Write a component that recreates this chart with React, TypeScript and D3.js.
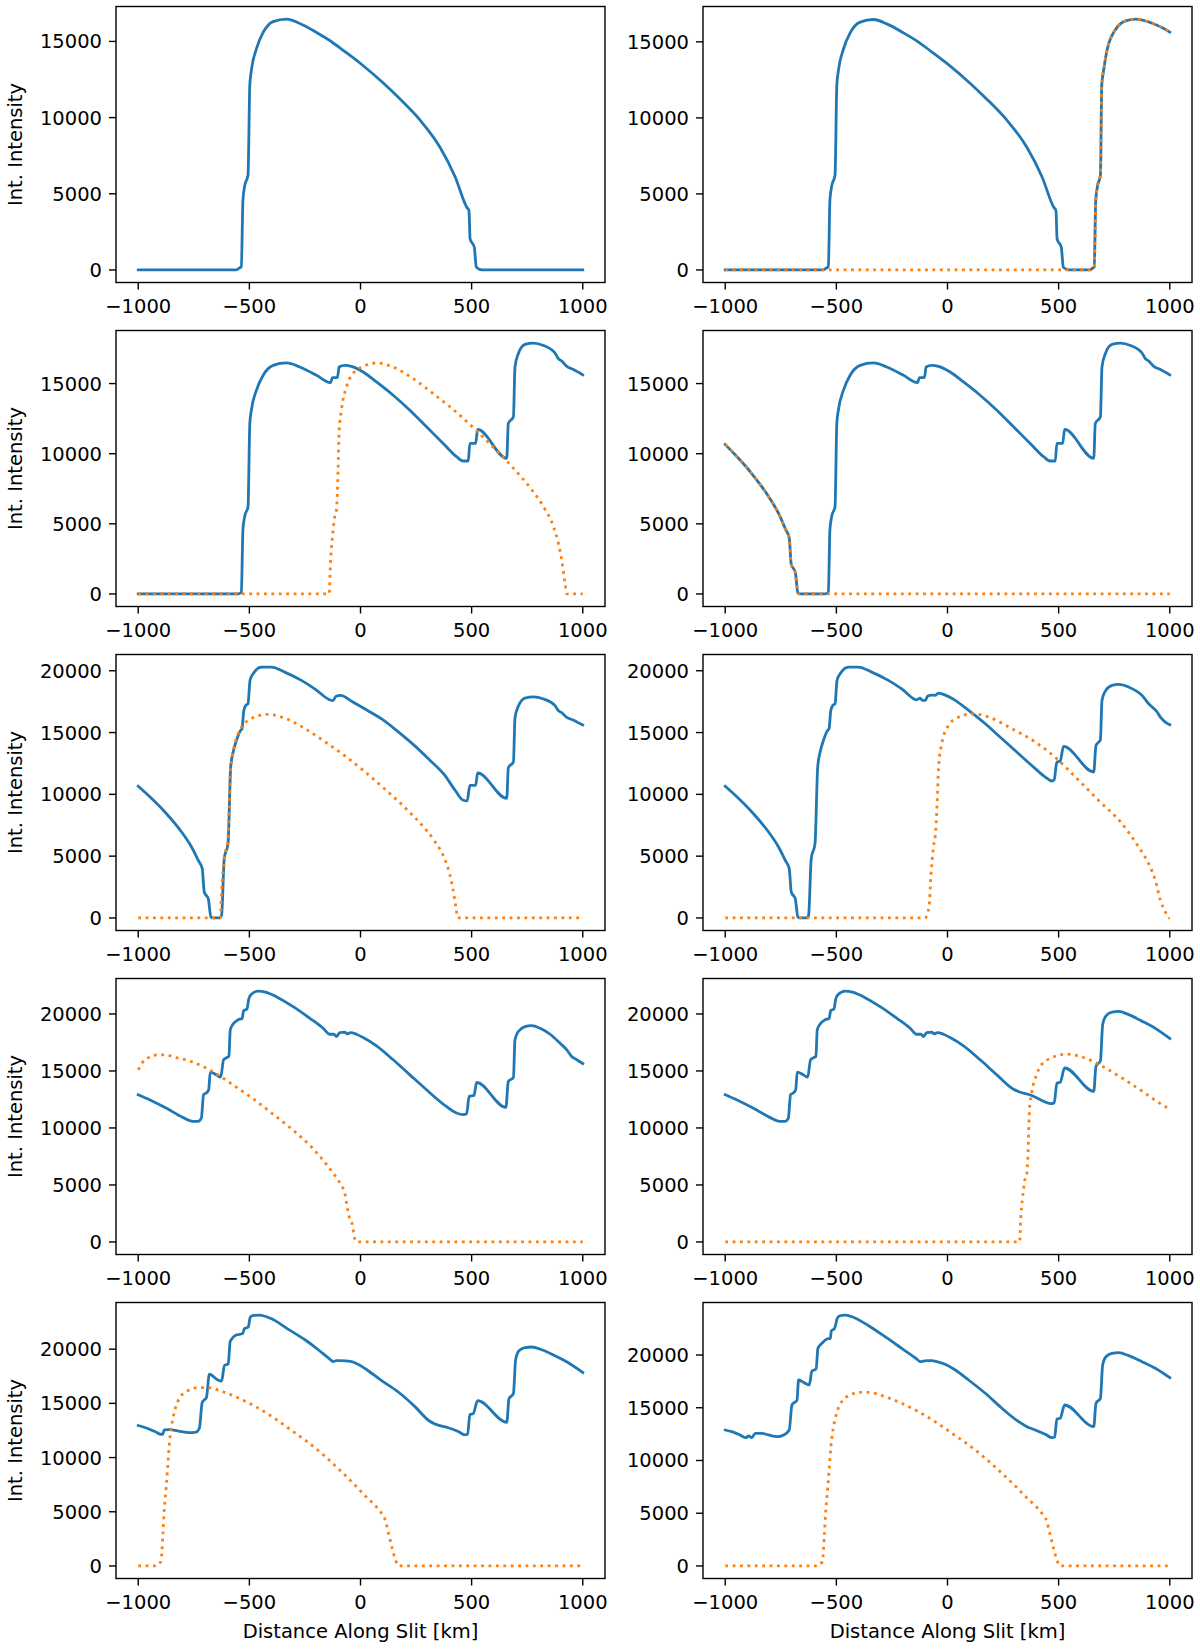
import React from 'react';
import * as d3 from 'd3';

type Pt = [number, number];

const xTickValues = [-1000, -500, 0, 500, 1000];
const xTickLabels = ['\u22121000', '\u2212500', '0', '500', '1000'];
const yTickValues = [0, 5000, 10000, 15000, 20000];
const yAxisTitle = 'Int. Intensity';
const xAxisTitle = 'Distance Along Slit [km]';

const blue1: Pt[] = [[-1000,0],[-560,0],[-545,130],[-536,200],[-529,4570],[-521,5520],[-506,6230],[-498,12150],[-491,13100],[-468,14530],[-438,15590],[-393,16300],[-333,16470],[-273,16180],[-198,15590],[-135,15030],[-70,14330],[0,13550],[100,12300],[170,11330],[270,9800],[357,8070],[426,6100],[478,4120],[488,3900],[493,2040],[512,1490],[521,175],[547,0],[1000,0]];

const blue2: Pt[] = [[-1000,0],[-560,0],[-545,130],[-536,200],[-529,4570],[-521,5520],[-506,6230],[-498,12150],[-491,13100],[-468,14530],[-438,15590],[-393,16300],[-333,16470],[-273,16180],[-198,15590],[-135,15030],[-70,14330],[0,13550],[100,12300],[170,11330],[270,9800],[357,8070],[426,6100],[478,4120],[488,3900],[493,2040],[512,1490],[521,175],[547,0],[640,0],[654,130],[660,200],[667,4570],[675,5520],[688,6230],[694,12150],[702,13100],[719,14530],[753,15750],[805,16400],[848,16500],[909,16290],[960,15970],[1000,15640]];
const orange2: Pt[] = [[-1000,0],[640,0],[654,130],[660,200],[667,4570],[675,5520],[688,6230],[694,12150],[702,13100],[719,14530],[753,15750],[805,16400],[848,16500],[909,16290],[960,15970],[1000,15640]];

const blue3: Pt[] = [[-1000,0],[-551,0],[-536,130],[-529,4570],[-521,5520],[-506,6230],[-498,12150],[-491,13100],[-468,14530],[-438,15590],[-393,16300],[-333,16470],[-273,16180],[-198,15590],[-135,15070],[-126,15430],[-104,15430],[-96,16180],[-71,16300],[-41,16230],[12,15830],[72,15120],[147,14170],[222,13100],[297,11920],[372,10730],[432,9790],[462,9480],[485,9480],[492,10730],[518,10730],[527,11730],[658,9670],[665,12150],[688,12630],[695,16180],[710,17130],[740,17790],[778,17890],[823,17720],[875,17180],[890,16780],[905,16610],[928,16230],[958,16000],[1000,15620]];
const orange3: Pt[] = [[-1000,0],[-141,0],[-135,2200],[-123,4570],[-116,5520],[-108,6000],[-101,8820],[-96,11680],[-86,13100],[-63,14760],[-18,15950],[72,16470],[147,16180],[237,15350],[327,14290],[417,13150],[508,11850],[598,10450],[658,9480],[688,8960],[763,7580],[823,6230],[868,4810],[890,3630],[905,2440],[920,780],[928,0],[1000,0]];

const blue4: Pt[] = [[-1000,10650],[-955,9920],[-880,8570],[-805,6950],[-760,5740],[-730,4660],[-712,3990],[-703,2100],[-685,1560],[-673,80],[-665,0],[-551,0],[-536,130],[-529,4570],[-521,5520],[-506,6230],[-498,12150],[-491,13100],[-468,14530],[-438,15590],[-393,16300],[-333,16470],[-273,16180],[-198,15590],[-135,15070],[-126,15430],[-104,15430],[-96,16180],[-71,16300],[-41,16230],[12,15830],[72,15120],[147,14170],[222,13100],[297,11920],[372,10730],[432,9790],[462,9480],[485,9480],[492,10730],[518,10730],[527,11730],[658,9670],[665,12150],[688,12630],[695,16180],[710,17130],[740,17790],[778,17890],[823,17720],[875,17180],[890,16780],[905,16610],[928,16230],[958,16000],[1000,15620]];
const orange4: Pt[] = [[-1000,10650],[-955,9920],[-880,8570],[-805,6950],[-760,5740],[-730,4660],[-712,3990],[-703,2100],[-685,1560],[-673,80],[-665,0],[1000,0]];

const blue5: Pt[] = [[-1000,10650],[-955,9920],[-880,8570],[-805,6950],[-760,5740],[-730,4660],[-712,3990],[-703,2100],[-685,1560],[-673,80],[-665,0],[-634,0],[-625,200],[-613,4800],[-596,6010],[-584,12210],[-573,13420],[-558,14370],[-539,15180],[-533,15310],[-525,16790],[-516,17200],[-506,17330],[-497,19220],[-483,19760],[-446,20300],[-401,20300],[-341,19890],[-266,19220],[-206,18540],[-138,17650],[-124,17590],[-110,17930],[-90,18010],[-38,17520],[30,16800],[100,16040],[170,15050],[238,14020],[310,12800],[376,11610],[428,10270],[460,9550],[480,9470],[492,10730],[518,10730],[527,11730],[658,9670],[665,12150],[688,12630],[695,16180],[710,17130],[740,17790],[778,17890],[823,17720],[875,17180],[890,16780],[905,16610],[928,16230],[958,16000],[1000,15620]];
const orange5: Pt[] = [[-1000,0],[-631,0],[-625,2200],[-613,4570],[-606,5520],[-598,6000],[-591,8820],[-586,11680],[-576,13100],[-553,14760],[-508,15950],[-418,16470],[-343,16180],[-253,15350],[-163,14290],[-73,13150],[18,11850],[108,10450],[168,9480],[198,8960],[273,7580],[333,6230],[378,4810],[400,3630],[415,2440],[430,780],[438,0],[1000,0]];

const blue6: Pt[] = [[-1000,10650],[-955,9920],[-880,8570],[-805,6950],[-760,5740],[-730,4660],[-712,3990],[-703,2100],[-685,1560],[-673,80],[-665,0],[-634,0],[-625,200],[-613,4800],[-596,6010],[-584,12210],[-573,13420],[-558,14370],[-539,15180],[-533,15310],[-525,16790],[-516,17200],[-506,17330],[-497,19220],[-483,19760],[-446,20300],[-401,20300],[-341,19890],[-266,19220],[-206,18540],[-138,17650],[-123,17790],[-113,17600],[-100,17600],[-89,17950],[-71,18030],[-56,18010],[-41,18190],[-18,18090],[35,17600],[95,16790],[170,15710],[245,14500],[320,13290],[395,12080],[440,11400],[470,11080],[480,11190],[492,12610],[507,12700],[522,13880],[658,11810],[668,13960],[688,14420],[695,17600],[710,18350],[740,18810],[770,18890],[815,18680],[875,18010],[905,17330],[943,16660],[958,16250],[980,15850],[1000,15640]];
const orange6: Pt[] = [[-1000,0],[-101,0],[-83,890],[-74,3590],[-63,5740],[-53,7090],[-45,10050],[-41,11940],[-26,14100],[5,15580],[50,16250],[117,16520],[185,16250],[290,15310],[395,14230],[500,12750],[590,11130],[680,9510],[785,7630],[860,5740],[905,4390],[935,3050],[958,1430],[980,490],[995,0],[1000,0]];

const blue7: Pt[] = [[-1000,12920],[-949,12480],[-875,11750],[-800,10930],[-755,10580],[-731,10580],[-716,10870],[-706,12920],[-694,13060],[-683,13350],[-676,14900],[-649,14660],[-629,14460],[-616,15980],[-601,16180],[-592,16270],[-586,18600],[-574,19100],[-551,19480],[-532,19620],[-526,20290],[-511,20440],[-502,21370],[-491,21720],[-461,22010],[-424,21900],[-379,21520],[-303,20640],[-228,19620],[-168,18750],[-138,18220],[-120,18220],[-108,18020],[-93,18370],[-71,18400],[-60,18250],[-45,18370],[-18,18220],[12,17930],[72,17200],[147,15980],[222,14660],[297,13350],[372,12100],[432,11310],[462,11170],[477,11220],[489,12770],[511,12860],[522,14000],[654,11810],[665,14080],[688,14430],[695,17730],[710,18460],[740,18890],[770,18980],[808,18750],[853,18220],[898,17430],[928,16850],[950,16270],[973,15980],[1000,15650]];
const orange7: Pt[] = [[-1000,15100],[-980,15770],[-950,16210],[-913,16410],[-875,16410],[-838,16210],[-762,15830],[-694,15250],[-620,14400],[-574,13780],[-484,12570],[-394,11220],[-306,9850],[-224,8400],[-150,6730],[-108,5630],[-86,4960],[-71,4310],[-60,3100],[-52,2300],[-38,1600],[-23,90],[-15,0],[1000,0]];

const blue8: Pt[] = [[-1000,12920],[-949,12480],[-875,11750],[-800,10930],[-755,10580],[-731,10580],[-716,10870],[-706,12920],[-694,13060],[-683,13350],[-676,14900],[-649,14660],[-629,14460],[-616,15980],[-601,16180],[-592,16270],[-586,18600],[-574,19100],[-551,19480],[-532,19620],[-526,20290],[-511,20440],[-502,21370],[-491,21720],[-461,22010],[-424,21900],[-379,21520],[-303,20640],[-228,19620],[-168,18750],[-138,18220],[-120,18220],[-108,18020],[-93,18370],[-71,18400],[-60,18250],[-45,18370],[-18,18220],[12,17930],[72,17200],[147,15980],[222,14660],[297,13400],[324,13160],[376,12870],[420,12450],[462,12130],[480,12200],[492,13930],[507,14000],[527,15260],[658,13210],[668,15420],[688,15890],[698,19050],[713,19840],[740,20160],[770,20220],[815,19940],[875,19370],[935,18740],[1000,17850]];
const orange8: Pt[] = [[-1000,0],[324,0],[330,2200],[342,4570],[349,5520],[357,6000],[364,8820],[369,11680],[379,13100],[402,14760],[447,15950],[537,16470],[612,16180],[702,15350],[792,14290],[882,13150],[940,12350],[1000,11650]];

const blue9: Pt[] = [[-1000,12960],[-960,12700],[-920,12350],[-900,12150],[-890,12150],[-883,12550],[-860,12580],[-820,12450],[-770,12300],[-740,12350],[-725,12700],[-712,15100],[-693,15550],[-680,17700],[-645,17200],[-625,17050],[-612,18500],[-595,18650],[-586,20750],[-560,21300],[-530,21450],[-522,21900],[-505,22050],[-496,22950],[-486,23100],[-455,23150],[-400,22800],[-330,21900],[-245,20800],[-190,19950],[-141,19130],[-123,18850],[-108,18950],[-90,18950],[-60,18900],[-40,18850],[-11,18600],[31,18060],[95,17100],[170,16050],[245,14700],[307,13420],[335,13100],[357,12950],[395,12750],[440,12400],[470,12100],[482,12150],[492,13950],[507,14050],[527,15250],[658,13250],[668,15430],[688,15900],[698,19050],[713,19850],[740,20150],[770,20200],[815,19950],[875,19400],[935,18750],[1000,17850]];
const orange9: Pt[] = [[-1000,0],[-924,0],[-898,410],[-889,2940],[-883,5150],[-874,7360],[-867,9260],[-859,11470],[-849,13050],[-834,14470],[-811,15580],[-773,16210],[-728,16460],[-690,16460],[-616,16050],[-541,15420],[-466,14630],[-391,13680],[-315,12580],[-240,11470],[-165,10210],[-90,8780],[-30,7580],[15,6600],[60,5700],[90,5000],[112,4200],[127,2940],[142,1670],[157,570],[172,0],[1000,0]];

const blue10: Pt[] = [[-1000,12890],[-970,12730],[-940,12480],[-907,12160],[-895,12320],[-880,12160],[-865,12580],[-835,12580],[-805,12420],[-767,12260],[-737,12420],[-712,12890],[-700,15260],[-677,15730],[-670,17630],[-640,17310],[-622,17160],[-610,18480],[-591,18670],[-583,20630],[-565,21110],[-542,21520],[-527,21580],[-523,22270],[-508,22530],[-497,23410],[-487,23700],[-460,23790],[-430,23630],[-355,22780],[-281,21740],[-206,20630],[-138,19620],[-123,19370],[-108,19430],[-93,19460],[-70,19460],[-48,19370],[-11,19120],[35,18580],[95,17630],[170,16370],[245,14950],[320,13680],[357,13210],[395,12890],[440,12480],[470,12160],[482,12200],[492,13930],[507,14000],[527,15260],[658,13210],[668,15420],[688,15890],[698,19050],[713,19840],[740,20160],[770,20220],[815,19940],[875,19370],[935,18740],[1000,17850]];
const orange10: Pt[] = [[-1000,0],[-589,0],[-563,410],[-554,2940],[-548,5150],[-539,7360],[-532,9260],[-524,11470],[-514,13050],[-499,14470],[-476,15580],[-438,16210],[-393,16460],[-355,16460],[-281,16050],[-206,15420],[-131,14630],[-56,13680],[20,12580],[95,11470],[170,10210],[245,8780],[305,7580],[350,6600],[395,5700],[425,5000],[447,4200],[462,2940],[477,1670],[492,570],[507,0],[1000,0]];

const panelBlue: Pt[][] = [blue1, blue2, blue3, blue4, blue5, blue6, blue7, blue8, blue9, blue10];
const panelOrange: (Pt[] | null)[] = [null, orange2, orange3, orange4, orange5, orange6, orange7, orange8, orange9, orange10];

const W = 1200;
const H = 1650;
const COL_X = [116, 703];
const PW = 489;
const ROW_TOP = 6.5;
const ROW_PITCH = 324;
const PH = 276;
const FONT = 'DejaVu Sans, sans-serif';
const FS = 19.5;
const BLUE = '#1f77b4';
const ORANGE = '#ff7f0e';

function Panel({ idx }: { idx: number }) {
  const col = idx % 2;
  const row = Math.floor(idx / 2);
  const x0 = COL_X[col];
  const y0 = ROW_TOP + row * ROW_PITCH;
  const blue = panelBlue[idx];
  const orange = panelOrange[idx];
  const all = orange ? blue.concat(orange) : blue;
  const [xmin, xmax] = d3.extent(all, (d) => d[0]) as [number, number];
  const [ymin, ymax] = d3.extent(all, (d) => d[1]) as [number, number];
  const xpad = (xmax - xmin) * 0.05;
  const ypad = (ymax - ymin) * 0.05;
  const x = d3.scaleLinear().domain([xmin - xpad, xmax + xpad]).range([x0, x0 + PW]);
  const y = d3.scaleLinear().domain([ymin - ypad, ymax + ypad]).range([y0 + PH, y0]);
  const line = d3
    .line<Pt>()
    .x((d) => x(d[0]))
    .y((d) => y(d[1]))
    .curve(d3.curveMonotoneX);
  const yt = yTickValues.filter((v) => v >= y.domain()[0] && v <= y.domain()[1]);
  const clipId = `clip${idx}`;
  return (
    <g>
      <defs>
        <clipPath id={clipId}>
          <rect x={x0} y={y0} width={PW} height={PH} />
        </clipPath>
      </defs>
      <g clipPath={`url(#${clipId})`}>
        <path d={line(blue) || ''} fill="none" stroke={BLUE} strokeWidth={2.8} strokeLinejoin="round" strokeLinecap="square" />
        {orange && (
          <path d={line(orange) || ''} fill="none" stroke={ORANGE} strokeWidth={2.8} strokeDasharray="2.8 4.6" strokeLinejoin="round" />
        )}
      </g>
      <rect x={x0} y={y0} width={PW} height={PH} fill="none" stroke="#000" strokeWidth={1.4} />
      {xTickValues.map((v, i) => (
        <g key={`xt${i}`}>
          <line x1={x(v)} x2={x(v)} y1={y0 + PH} y2={y0 + PH + 7} stroke="#000" strokeWidth={1.4} />
          <text x={x(v)} y={y0 + PH + 30} fontFamily={FONT} fontSize={FS} textAnchor="middle" fill="#000">
            {xTickLabels[i]}
          </text>
        </g>
      ))}
      {yt.map((v) => (
        <g key={`yt${v}`}>
          <line x1={x0 - 7} x2={x0} y1={y(v)} y2={y(v)} stroke="#000" strokeWidth={1.4} />
          <text x={x0 - 14} y={y(v) + 7} fontFamily={FONT} fontSize={FS} textAnchor="end" fill="#000">
            {String(v)}
          </text>
        </g>
      ))}
      {col === 0 && (
        <text
          transform={`translate(22,${y0 + PH / 2}) rotate(-90)`}
          fontFamily={FONT}
          fontSize={FS}
          textAnchor="middle"
          fill="#000"
        >
          {yAxisTitle}
        </text>
      )}
      {row === 4 && (
        <text x={x0 + PW / 2} y={1638} fontFamily={FONT} fontSize={FS} textAnchor="middle" fill="#000">
          {xAxisTitle}
        </text>
      )}
    </g>
  );
}

export default function App() {
  return (
    <svg
      width={W}
      height={H}
      viewBox={`0 0 ${W} ${H}`}
      style={{ position: 'absolute', left: 0, top: 0, background: '#fff' }}
    >
      <rect x={0} y={0} width={W} height={H} fill="#fff" />
      {panelBlue.map((_, i) => (
        <Panel key={i} idx={i} />
      ))}
    </svg>
  );
}
